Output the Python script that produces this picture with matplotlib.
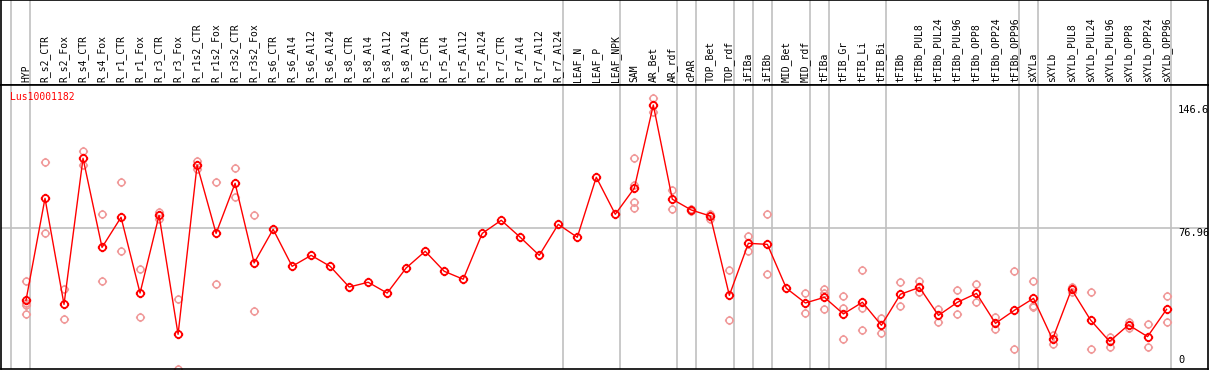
import matplotlib
matplotlib.use("Agg")
import matplotlib.pyplot as plt
from matplotlib.path import Path

GENE = "Lus10001182"

samples = [
    "HYP", "R_s2_CTR", "R_s2_Fox", "R_s4_CTR", "R_s4_Fox", "R_r1_CTR", "R_r1_Fox",
    "R_r3_CTR", "R_r3_Fox", "R_r1s2_CTR", "R_r1s2_Fox", "R_r3s2_CTR", "R_r3s2_Fox",
    "R_s6_CTR", "R_s6_Al4", "R_s6_Al12", "R_s6_Al24", "R_s8_CTR", "R_s8_Al4",
    "R_s8_Al12", "R_s8_Al24", "R_r5_CTR", "R_r5_Al4", "R_r5_Al12", "R_r5_Al24",
    "R_r7_CTR", "R_r7_Al4", "R_r7_Al12", "R_r7_Al24", "LEAF_N", "LEAF_P", "LEAF_NPK",
    "SAM", "AR_Bet", "AR_rdf", "cPAR", "TOP_Bet", "TOP_rdf", "iFIBa", "iFIBb",
    "MID_Bet", "MID_rdf", "tFIBa", "tFIB_Gr", "tFIB_Li", "tFIB_Bi", "tFIBb",
    "tFIBb_PUL8", "tFIBb_PUL24", "tFIBb_PUL96", "tFIBb_OPP8", "tFIBb_OPP24", "tFIBb_OPP96",
    "sXYLa", "sXYLb", "sXYLb_PUL8", "sXYLb_PUL24", "sXYLb_PUL96", "sXYLb_OPP8",
    "sXYLb_OPP24", "sXYLb_OPP96",
]

means = [
    36.3, 93.9, 34.0, 116.5, 66.2, 83.2, 40.4, 84.3, 17.1, 112.7, 74.1, 102.4, 57.4,
    76.4, 55.5, 61.7, 55.5, 43.8, 46.5, 40.4, 54.6, 64.0, 52.7, 48.2, 74.1, 81.5,
    71.9, 61.7, 79.2, 71.9, 105.8, 84.9, 99.6, 146.6, 93.4, 87.3, 83.9, 39.1, 68.5,
    67.9, 43.1, 34.8, 38.0, 28.6, 35.2, 22.2, 39.7, 43.6, 27.8, 35.2, 40.2, 23.3,
    30.7, 37.4, 14.3, 42.5, 25.2, 13.1, 22.4, 15.8, 31.2,
]

replicates = [
    [47.2, 34.6, 33.7, 28.4], [114.4, 74.1], [42.7, 25.8], [120.6, 112.7],
    [84.9, 47.2], [102.9, 64.0], [53.8, 26.7], [86.4, 82.2], [36.9, -2.5],
    [115.0, 110.6], [102.9, 45.3], [110.8, 94.5], [84.3, 30.3],
    [], [], [], [], [], [], [], [], [], [], [], [], [], [], [], [], [], [], [],
    [116.5, 101.4, 91.7, 88.3], [150.6, 142.5], [98.6, 87.7], [87.9, 86.9],
    [85.3, 82.4], [53.2, 25.0], [72.6, 64.3], [84.9, 51.2], [], [40.2, 29.3],
    [42.5, 40.2, 31.6], [38.6, 31.8, 14.3], [53.2, 32.1, 19.4], [26.1, 18.0],
    [46.5, 32.9], [47.2, 40.8], [31.4, 24.2], [42.0, 28.4], [45.3, 35.2],
    [26.9, 20.3], [52.7, 8.6], [47.2, 33.1, 32.4], [16.7, 11.6], [44.0, 41.0],
    [40.8, 8.6], [15.8, 10.1], [24.2, 20.8], [22.8, 9.8], [38.9, 23.9],
]

# a grey separator is drawn right after each of these samples
group_ends = ["HYP", "R_r7_Al24", "LEAF_NPK", "AR_rdf", "cPAR", "TOP_rdf", "iFIBa",
              "iFIBb", "MID_rdf", "tFIBa", "tFIB_Bi", "tFIBb_OPP96", "sXYLa", "sXYLb_OPP96"]

scale_labels = ["146.6", "76.96", "0"]
scale_values = [146.6, 76.96, 0.0]
ref_level = 76.96

RED = "#ff0000"
PALE = "#f09a9a"
GREY = "#c0c0c0"
FONT = "DejaVu Sans Mono"

# circle with four small ticks, like the original markers
circ = Path.unit_circle()
ticks = Path([(0, 1), (0, 1.35), (0, -1), (0, -1.35), (1, 0), (1.35, 0), (-1, 0), (-1.35, 0)],
             [Path.MOVETO, Path.LINETO] * 4)
tick_circle = Path.make_compound_path(circ, ticks)

W, H = 1209, 370
fig = plt.figure(figsize=(W / 100, H / 100), dpi=100)
head = fig.add_axes([1 / W, (H - 85) / H, 1207 / W, 85 / H])
ax = fig.add_axes([1 / W, 1 / H, 1207 / W, 284 / H])

xlim = (-1.315, 62.18)
for a in (head, ax):
    a.set_xlim(*xlim)
    a.set_xticks([])
    a.set_yticks([])
    for s in a.spines.values():
        s.set_color("black")
        s.set_linewidth(1.2)
head.set_ylim(0, 1)
ax.set_ylim(-2.49, 157.9)

idx = list(range(len(samples)))
seps = [-1 + 0.23] + [samples.index(n) + 0.23 for n in group_ends]
for a in (head, ax):
    for sx in seps:
        a.axvline(sx, color=GREY, lw=1.2, zorder=0)

ax.axhline(ref_level, color=GREY, lw=1.2, zorder=0)

for i, name in enumerate(samples):
    head.text(i, 0.03, name, rotation=90, ha="center", va="bottom",
              fontsize=7, family=FONT, color="black")

for i, r in enumerate(replicates):
    if r:
        ax.plot([i] * len(r), r, ls="none", marker=tick_circle, ms=6.6,
                mfc="none", mec=PALE, mew=1.1, zorder=2, clip_on=False)

ax.plot(idx, means, color=RED, lw=1.0, marker=tick_circle, ms=6.8,
        mfc="none", mec=RED, mew=1.3, zorder=3)

ax.text(0.0075, 0.975, GENE, transform=ax.transAxes, ha="left", va="top",
        fontsize=7, family=FONT, color=RED)

xr = (1178 - 26) / 19.01
for lab, v in zip(scale_labels, scale_values):
    ax.text(xr, v, lab, ha="left", va="bottom" if v == 0 else "top",
            fontsize=7.5, family=FONT, color="black")

fig.savefig("out.png", dpi=100)
